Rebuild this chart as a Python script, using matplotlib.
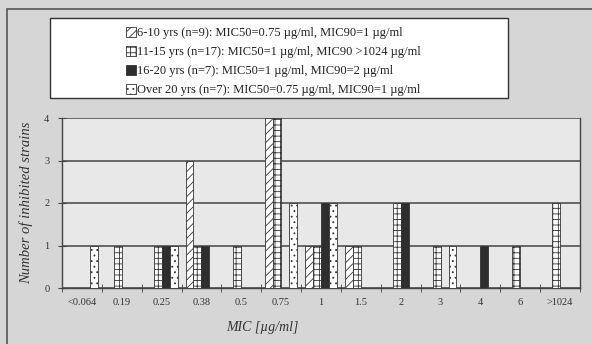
import numpy as np
import matplotlib
matplotlib.use("Agg")
import matplotlib.pyplot as plt
from matplotlib.patches import Rectangle

plt.rcParams['hatch.linewidth'] = 0.6

# MIC categories
mic = ['<0.064', '0.19', '0.25', '0.38', '0.5', '0.75', '1', '1.5', '2', '3', '4', '6', '>1024']

# number of inhibited strains per age group
yrs_6_10 = [0, 0, 0, 3, 0, 4, 1, 1, 0, 0, 0, 0, 0]
yrs_11_15 = [0, 1, 1, 1, 1, 4, 1, 1, 2, 1, 0, 1, 2]
yrs_16_20 = [0, 0, 1, 1, 0, 0, 2, 0, 2, 0, 1, 0, 0]
yrs_over20 = [1, 0, 1, 0, 0, 2, 2, 0, 0, 1, 0, 0, 0]

labels = ['6-10 yrs (n=9): MIC50=0.75 \u00b5g/ml, MIC90=1 \u00b5g/ml',
          '11-15 yrs (n=17): MIC50=1 \u00b5g/ml, MIC90 >1024 \u00b5g/ml',
          '16-20 yrs (n=7): MIC50=1 \u00b5g/ml, MIC90=2 \u00b5g/ml',
          'Over 20 yrs (n=7): MIC50=0.75 \u00b5g/ml, MIC90=1 \u00b5g/ml']

series = [yrs_6_10, yrs_11_15, yrs_16_20, yrs_over20]
fills = ['white', 'white', '#2e2e2e', 'white']
hatches = ['////', '+++', None, '...']

fig = plt.figure(figsize=(5.92, 3.44), dpi=100)
fig.patch.set_facecolor('#d6d6d6')

# outer frame of the scanned figure
fig.patches.append(Rectangle((7 / 592, -0.01), 1.02, 1 - 9 / 344 + 0.01, transform=fig.transFigure,
                             fill=False, edgecolor='#555555', linewidth=1.2))

ax = fig.add_axes([62 / 592, 1 - 288 / 344, 518 / 592, 170 / 344])
ax.set_facecolor('#e8e8e8')

x = np.arange(len(mic))
w = 0.2
handles = []
for i, vals in enumerate(series):
    b = ax.bar(x - 0.3 + i * w, vals, w, color=fills[i], hatch=hatches[i],
               edgecolor='#333333', linewidth=0.6, zorder=3)
    handles.append(b)

ax.set_xlim(-0.5, len(mic) - 0.5)
ax.set_ylim(0, 4)
ax.set_yticks([0, 1, 2, 3, 4])
ax.yaxis.grid(True, color='#444444', linewidth=1.1, zorder=1)
ax.set_axisbelow(True)

ax.set_xticks(x)
ax.set_xticklabels(mic, fontsize=7.5, family='Liberation Serif', color='#333333')
ax.set_xticks(np.arange(len(mic) + 1) - 0.5, minor=True)
ax.tick_params(axis='x', which='major', length=0, pad=7)
ax.tick_params(axis='x', which='minor', length=6, direction='inout', color='#444444')
ax.tick_params(axis='y', length=6, direction='inout', color='#444444', labelsize=7.5, pad=6,
               labelcolor='#333333')
for lab in ax.get_yticklabels():
    lab.set_family('Liberation Serif')

ax.spines['top'].set_visible(False)
for s in ['left', 'bottom', 'right']:
    ax.spines[s].set_color('#444444')
    ax.spines[s].set_linewidth(1.0)

ax.set_ylabel('Number of inhibited strains', fontsize=10.5, style='italic',
              family='Liberation Serif', color='#333333', labelpad=8)
fig.text(262 / 592, 1 - 327 / 344, 'MIC [\u00b5g/ml]', fontsize=10, style='italic',
         family='Liberation Serif', color='#333333', ha='center', va='center')

# legend box
fig.patches.append(Rectangle((50 / 592, 1 - 98 / 344), 458 / 592, 80 / 344,
                             transform=fig.transFigure, facecolor='white',
                             edgecolor='#333333', linewidth=1.0))
leg = fig.legend(handles, labels, loc='center', bbox_to_anchor=(273 / 592, 1 - 61.5 / 344),
                 frameon=False, prop={'family': 'Liberation Serif', 'size': 9},
                 handlelength=0.8, handleheight=0.8, handletextpad=0.1, labelspacing=0.55,
                 borderpad=0)
for t in leg.get_texts():
    t.set_color('#222222')

fig.savefig('out.png', dpi=100, facecolor=fig.get_facecolor())
